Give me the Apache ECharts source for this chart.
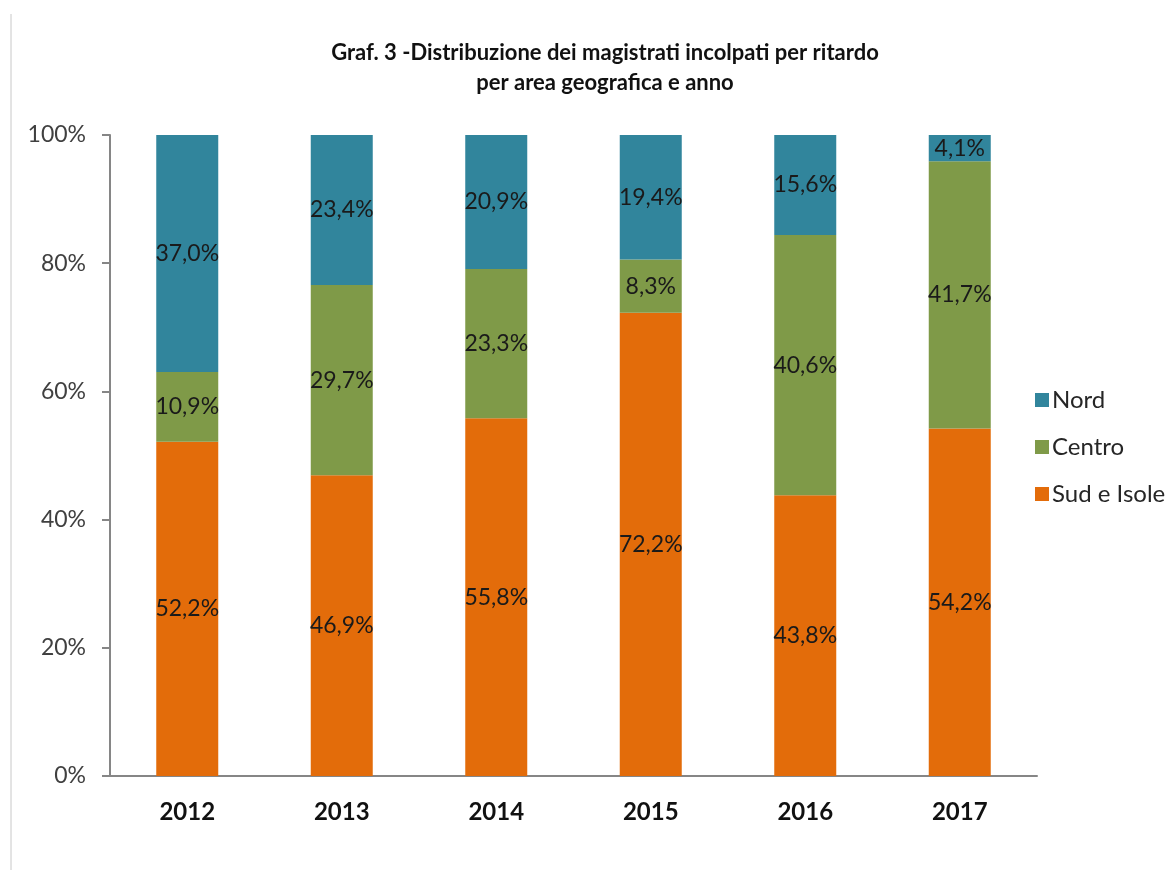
<!DOCTYPE html>
<html>
<head>
<meta charset="utf-8">
<script src="https://cdn.jsdelivr.net/npm/echarts@6/dist/echarts.min.js"></script>
<style>
  html, body { margin: 0; padding: 0; background: #fff; }
  #main { width: 1167px; height: 870px; }
</style>
</head>
<body>
<div id="main"></div>
<script>
// data
var anni = ['2012', '2013', '2014', '2015', '2016', '2017'];
var sud = [52.2, 46.9, 55.8, 72.2, 43.8, 54.2];
var centro = [10.9, 29.7, 23.3, 8.3, 40.6, 41.7];
var nord = [37.0, 23.4, 20.9, 19.4, 15.6, 4.1];
var yTicks = [0, 20, 40, 60, 80, 100];

// 100% stacked like the original: bar heights are normalised, labels show the raw value
function share(arr, i) {
    var tot = sud[i] + centro[i] + nord[i];
    return { value: arr[i] / tot * 100, raw: arr[i] };
}
function build(arr) {
    var out = [];
    for (var i = 0; i < anni.length; i++) out.push(share(arr, i));
    return out;
}

var labelStyle = {
    show: true,
    position: 'inside',
    fontFamily: 'Lato',
    fontSize: 23,
    color: '#1a1a1a',
    formatter: function (p) {
        return p.data.raw.toFixed(1).replace('.', ',') + '%';
    }
};

function serie(name, arr, color) {
    return {
        name: name,
        type: 'bar',
        stack: 'tot',
        barWidth: 62,
        data: build(arr),
        itemStyle: { color: color },
        label: labelStyle
    };
}

var myChart = echarts.init(document.getElementById('main'));

var option = {
    animation: false,
    backgroundColor: '#fff',
    title: {
        text: 'Graf. 3 -Distribuzione dei magistrati incolpati per ritardo\nper area geografica e anno',
        left: 600,
        textAlign: 'center',
        top: 33,
        textStyle: {
            fontFamily: 'Lato',
            fontWeight: 'bold',
            fontSize: 22,
            lineHeight: 30,
            color: '#111'
        }
    },
    legend: {
        orient: 'vertical',
        left: 1030,
        top: 383,
        itemWidth: 14,
        itemHeight: 14,
        itemGap: 23,
        icon: 'rect',
        data: ['Nord', 'Centro', 'Sud e Isole'],
        textStyle: { fontFamily: 'Lato', fontSize: 24, color: '#262626', padding: [0, 0, 0, -2] }
    },
    grid: { left: 110, right: 130, top: 135, bottom: 94 },
    xAxis: {
        type: 'category',
        data: anni,
        axisLine: { lineStyle: { color: '#868686', width: 2 } },
        axisTick: { length: 7, lineStyle: { color: '#868686', width: 2 } },
        axisLabel: { fontFamily: 'Lato', fontWeight: 'bold', fontSize: 24, color: '#111', margin: 24 }
    },
    yAxis: {
        type: 'value',
        min: 0,
        max: 100,
        interval: 20,
        axisLine: { show: true, lineStyle: { color: '#868686', width: 2 } },
        axisTick: { show: true, length: 8, lineStyle: { color: '#868686', width: 2 } },
        splitLine: { show: false },
        axisLabel: {
            fontFamily: 'Lato',
            fontSize: 23,
            color: '#404040',
            margin: 24,
            formatter: function (v) { return yTicks.indexOf(v) >= 0 ? v + '%' : ''; }
        }
    },
    graphic: [{
        type: 'line',
        shape: { x1: 11, y1: 14, x2: 11, y2: 870 },
        style: { stroke: '#c8c8c8', lineWidth: 1 }
    }],
    series: [
        serie('Sud e Isole', sud, '#E36C0A'),
        serie('Centro', centro, '#7F9A48'),
        serie('Nord', nord, '#31859C')
    ]
};

myChart.setOption(option);
</script>
</body>
</html>
